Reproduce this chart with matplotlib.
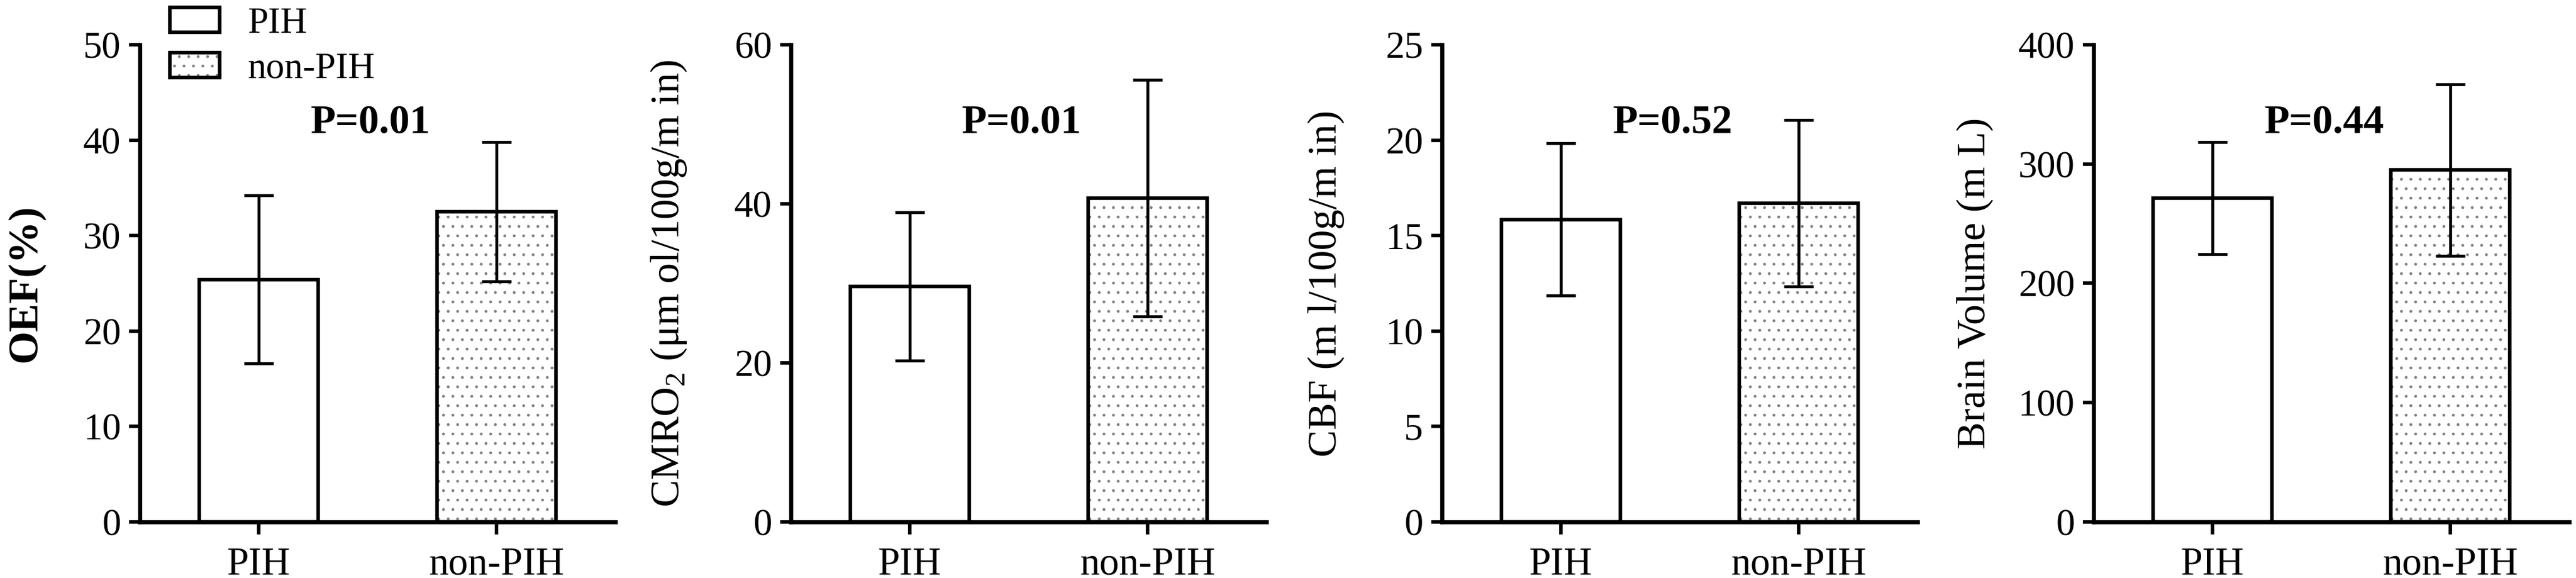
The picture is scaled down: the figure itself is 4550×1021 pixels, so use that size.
import matplotlib
matplotlib.use('Agg')
import matplotlib.pyplot as plt
from matplotlib.patches import Patch

plt.rcParams['font.family'] = ['Liberation Serif', 'DejaVu Serif']
plt.rcParams['mathtext.fontset'] = 'custom'
plt.rcParams['mathtext.rm'] = 'Liberation Serif'
plt.rcParams['hatch.linewidth'] = 1.2

# data (mean and SD per group)
groups = ['PIH', 'non-PIH']
oef_mean = [25.4, 32.5]
oef_sd = [8.8, 7.3]
cmro2_mean = [29.6, 40.7]
cmro2_sd = [9.3, 14.9]
cbf_mean = [15.85, 16.7]
cbf_sd = [4.0, 4.35]
vol_mean = [271.5, 295.0]
vol_sd = [47.0, 72.0]

p_labels = ['P=0.01', 'P=0.01', 'P=0.52', 'P=0.44']
y_labels = ['OEF(%)', 'CMRO$_2$ (μm ol/100g/m in)', 'CBF (m l/100g/m in)', 'Brain Volume (m L)']
y_max = [50, 60, 25, 400]
y_step = [10, 20, 5, 100]

means = [oef_mean, cmro2_mean, cbf_mean, vol_mean]
sds = [oef_sd, cmro2_sd, cbf_sd, vol_sd]

fig = plt.figure(figsize=(45.5, 10.21), dpi=100)
lefts = [0.0543, 0.307, 0.5598, 0.8127]
label_x = [-0.20, -0.215, -0.205, -0.21]
hatch_grey = '0.5'

axes = []
for i in range(4):
    ax = fig.add_axes([lefts[i], 0.097, 0.1846, 0.8256])
    axes.append(ax)
    x = [0, 1]
    # dotted fill for non-PIH, drawn under the black outline
    ax.bar(x[1], means[i][1], width=0.5, color='white', edgecolor=hatch_grey,
           linewidth=0, hatch='.', zorder=1)
    ax.bar(x, means[i], width=0.5, facecolor='none', edgecolor='black',
           linewidth=4.6, zorder=2)
    ax.errorbar(x, means[i], yerr=sds[i], fmt='none', ecolor='black',
                elinewidth=3.8, capsize=18.5, capthick=3.8, zorder=3)

    ax.set_xlim(-0.5, 1.5)
    ax.set_ylim(0, y_max[i])
    ax.set_yticks(range(0, y_max[i] + 1, y_step[i]))
    ax.set_xticks(x)
    ax.set_xticklabels(groups)

    ax.spines['top'].set_visible(False)
    ax.spines['right'].set_visible(False)
    ax.spines['left'].set_linewidth(5.3)
    ax.spines['bottom'].set_linewidth(5.3)
    ax.tick_params(axis='y', direction='out', length=14, width=4.5, pad=10, labelsize=48)
    ax.tick_params(axis='x', direction='out', length=16, width=4.5, pad=16, labelsize=50)

    if i == 0:
        ax.set_ylabel(y_labels[i], fontsize=54, fontweight='bold')
    else:
        ax.set_ylabel(y_labels[i], fontsize=52)
    ax.yaxis.set_label_coords(label_x[i], 0.5)

    ax.text(0.47, 0.835 * y_max[i], p_labels[i], fontsize=52, fontweight='bold',
            ha='center', va='center')

h_pih = Patch(facecolor='white', edgecolor='black', linewidth=4.6)
h_non = (Patch(facecolor='white', edgecolor=hatch_grey, linewidth=0, hatch='.'),
         Patch(facecolor='none', edgecolor='black', linewidth=4.6))
axes[0].legend([h_pih, h_non], groups, loc='upper left',
               bbox_to_anchor=(300 / 4550, 1 - 12 / 1021), bbox_transform=fig.transFigure,
               frameon=False, fontsize=47, handlelength=1.35, handleheight=0.66,
               handletextpad=0.75, labelspacing=0.32, borderpad=0, borderaxespad=0)

fig.savefig('out.png', dpi=100, facecolor='white')
